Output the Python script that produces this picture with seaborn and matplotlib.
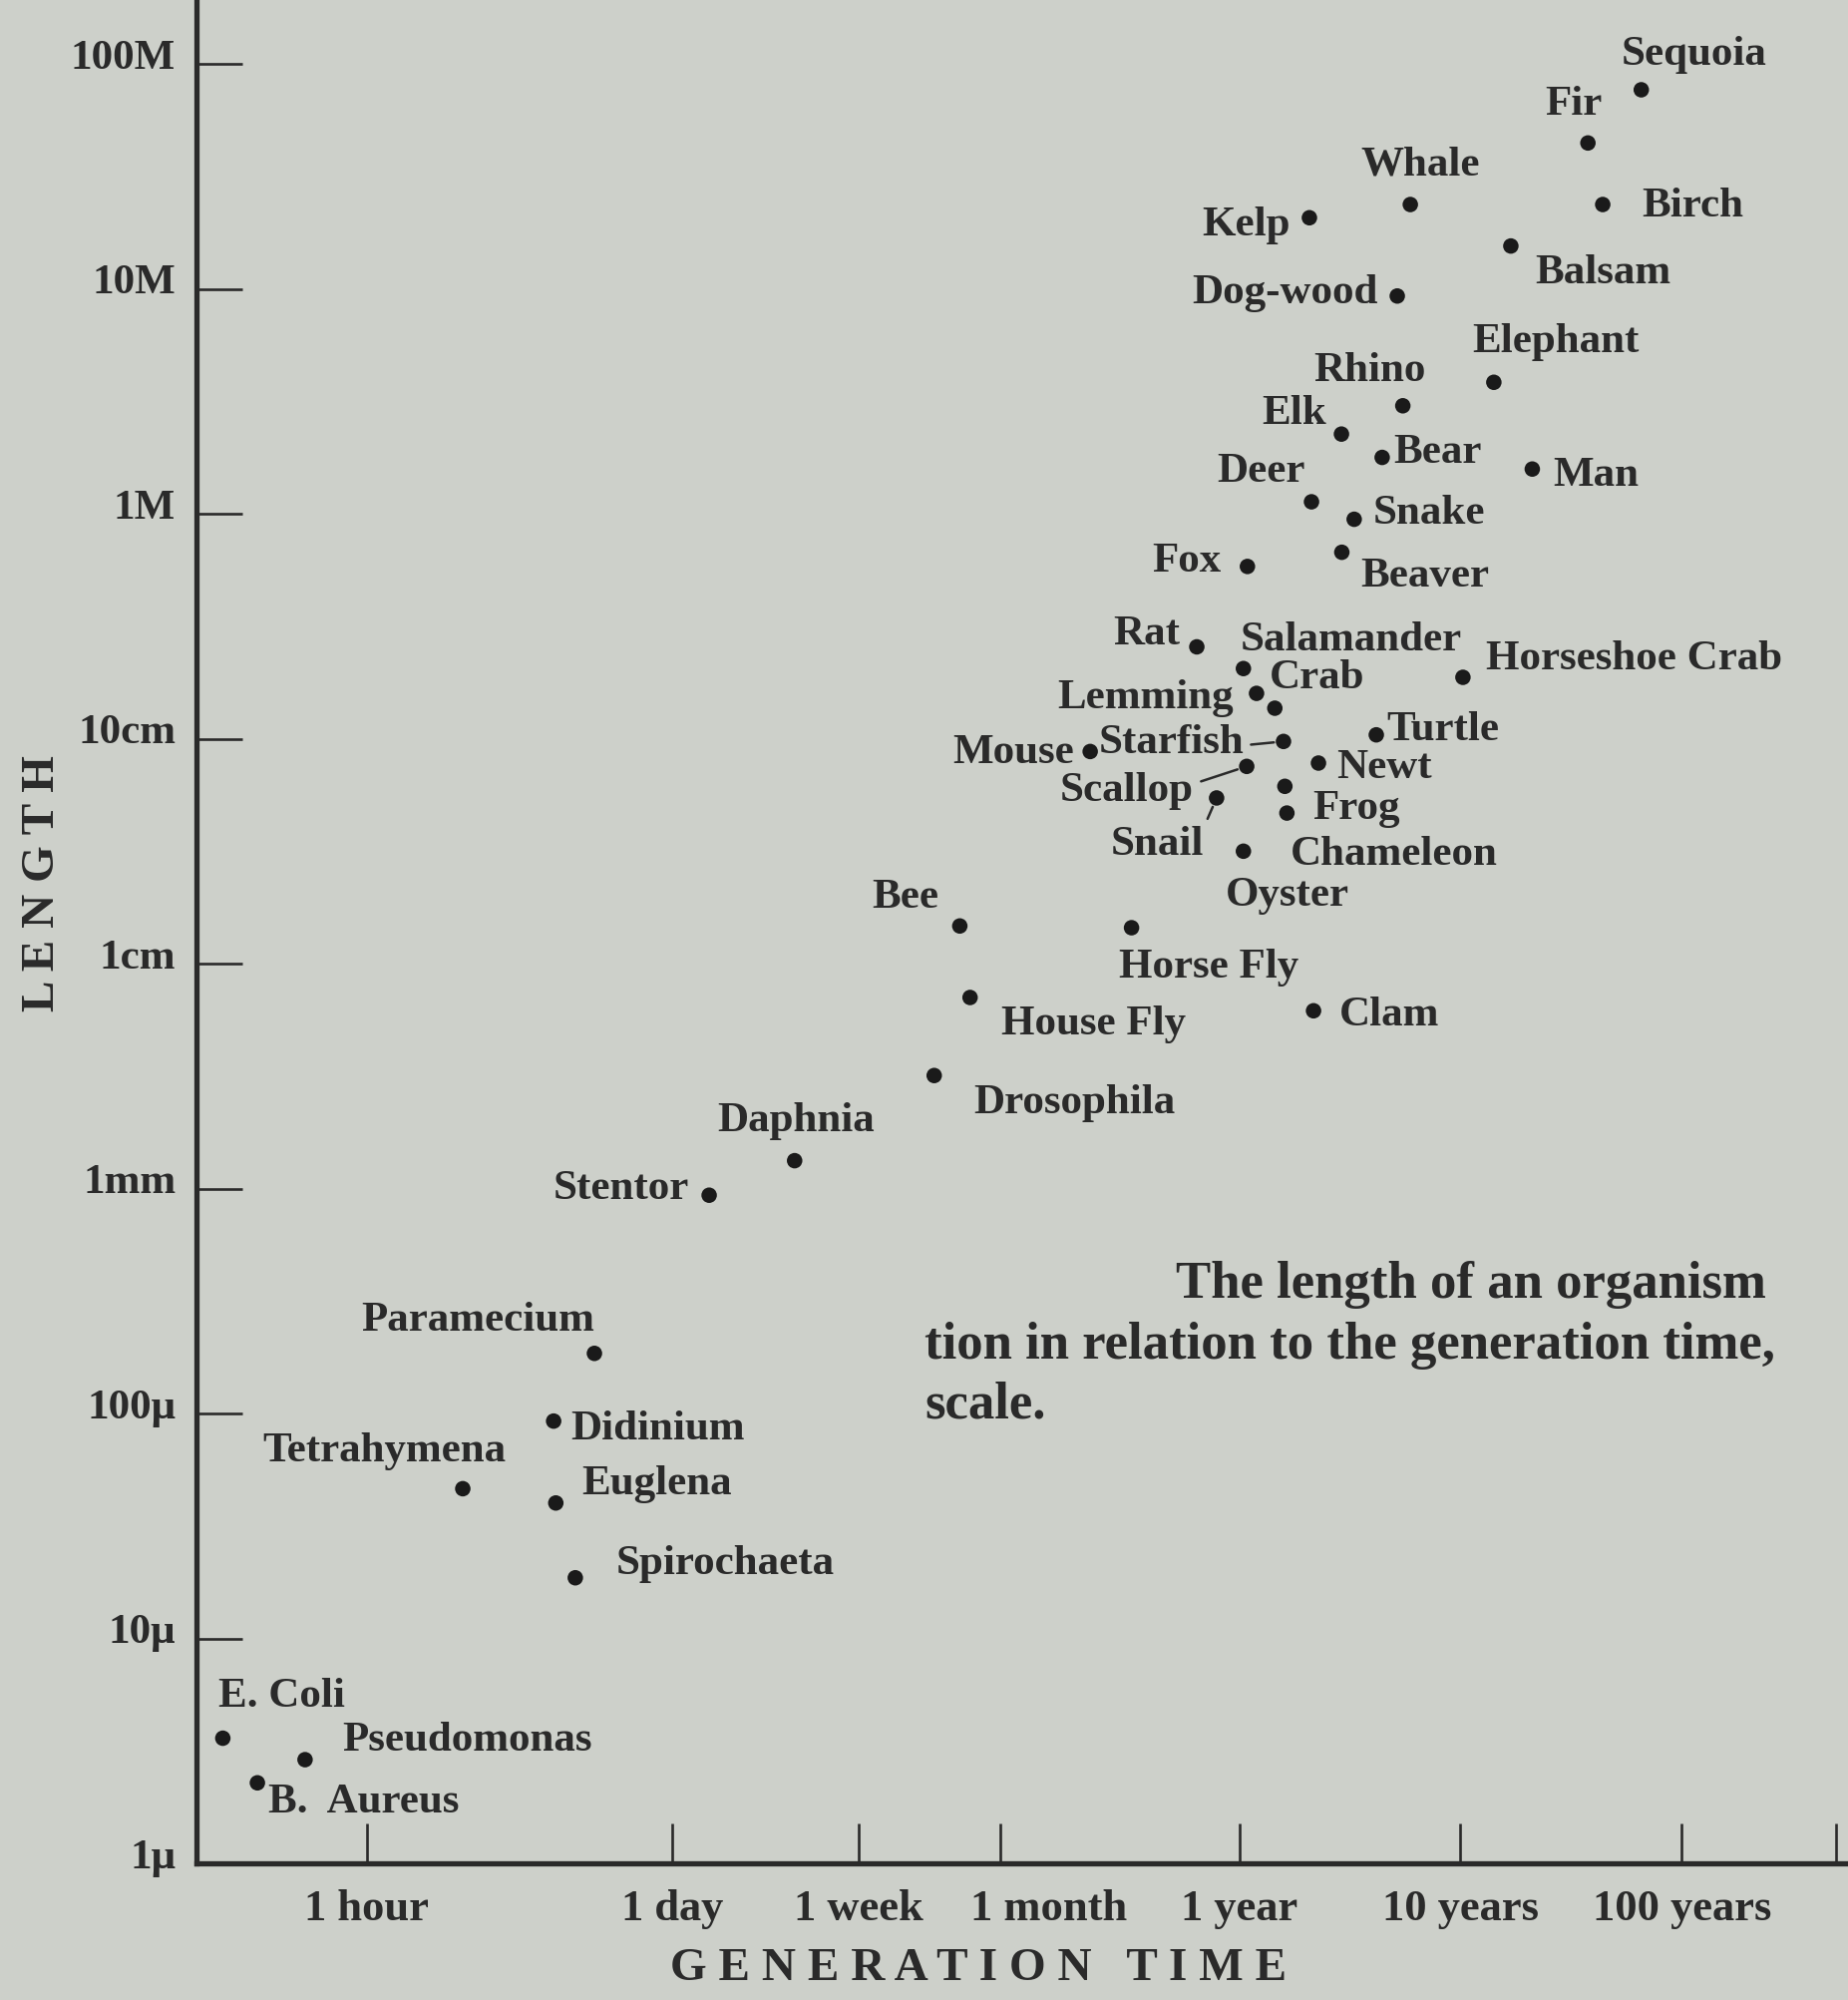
import matplotlib
matplotlib.use("Agg")
import matplotlib.pyplot as plt
import matplotlib.transforms as mtransforms
from matplotlib.ticker import NullLocator
import pandas as pd
import seaborn as sns

# ---------------------------------------------------------------------------
# Length of organisms at reproduction against generation time
# ---------------------------------------------------------------------------
organisms = [
    "Sequoia", "Fir", "Whale", "Birch", "Kelp", "Balsam", "Dog-wood",
    "Elephant", "Rhino", "Elk", "Bear", "Man", "Deer", "Snake", "Fox",
    "Beaver", "Rat", "Salamander", "Crab", "Lemming", "Horseshoe Crab",
    "Starfish", "Mouse", "Turtle", "Newt", "Scallop", "Frog", "Chameleon",
    "Snail", "Oyster", "Bee", "Horse Fly", "House Fly", "Clam", "Drosophila",
    "Daphnia", "Stentor", "Paramecium", "Didinium", "Tetrahymena", "Euglena",
    "Spirochaeta", "E. Coli", "Pseudomonas", "B.  Aureus",
]

# generation time in hours
generation_hours = [
    5.75e5, 3.30e5, 5.20e4, 3.85e5, 1.82e4, 1.48e5, 4.54e4,
    1.24e5, 4.81e4, 2.54e4, 3.88e4, 1.85e5, 1.86e4, 2.90e4, 9.55e3,
    2.55e4, 5.64e3, 9.16e3, 1.27e4, 1.05e4, 8.99e4,
    1.39e4, 1.86e3, 3.65e4, 2.00e4, 9.48e3, 1.41e4, 1.44e4,
    6.93e3, 9.16e3, 479, 2.86e3, 533, 1.90e4, 367,
    85.9, 35.3, 10.7, 7.0, 2.72, 7.16,
    8.77, 0.224, 0.527, 0.321,
]

# length in metres
length_m = [
    76.7, 44.5, 23.7, 23.7, 20.7, 15.5, 9.29,
    3.84, 3.02, 2.26, 1.78, 1.58, 1.13, 0.945, 0.583,
    0.674, 0.256, 0.205, 0.1366, 0.159, 0.1874,
    0.0972, 0.0877, 0.104, 0.0779, 0.0753, 0.0614, 0.0467,
    0.0545, 0.0316, 0.0147, 0.01444, 0.00707, 0.00617, 0.00318,
    0.00133, 0.000934, 1.85e-4, 9.25e-5, 4.63e-5, 4.00e-5,
    1.86e-5, 3.60e-6, 2.89e-6, 2.28e-6,
]

# axis ticks (hours / metres)
x_tick_hours = [1, 24, 168, 730.5, 8766, 87660, 876600, 4.383e6]
x_tick_labels = ["1 hour", "1 day", "1 week", "1 month", "1 year",
                 "10 years", "100 years", ""]
y_tick_m = [1e-6, 1e-5, 1e-4, 1e-3, 1e-2, 1e-1, 1, 10, 100]
y_tick_labels = ["1\u03bc", "10\u03bc", "100\u03bc", "1mm", "1cm", "10cm",
                 "1M", "10M", "100M"]

x_limits = (0.1703, 4.94e6)
y_limits = (1e-6, 192.3)

caption_lines = [
    "The length of an organism",
    "tion in relation to the generation time,",
    "scale.",
]

# label placement: offset (pixels) from the point and horizontal alignment
label_layout = {
    "Sequoia": (-20, 25, "left"), "Fir": (-43, 28, "left"),
    "Whale": (-50, 30, "left"), "Birch": (39, -12, "left"),
    "Kelp": (-19, -18, "right"), "Balsam": (24, -37, "left"),
    "Dog-wood": (-19, -7, "right"), "Elephant": (-22, 30, "left"),
    "Rhino": (-33, 25, "center"), "Elk": (-15, 10, "right"),
    "Bear": (11, -5, "left"), "Man": (21, -17, "left"),
    "Deer": (-6, 20, "right"), "Snake": (19, -4, "left"),
    "Fox": (-26, -5, "right"), "Beaver": (19, -34, "left"),
    "Rat": (-17, 2, "right"), "Salamander": (-3, 18, "left"),
    "Crab": (-5, 20, "left"), "Lemming": (-23, -15, "right"),
    "Horseshoe Crab": (23, 8, "left"), "Starfish": (-40, -12, "right"),
    "Mouse": (-16, -12, "right"), "Turtle": (10, -5, "left"),
    "Newt": (18, -15, "left"), "Scallop": (-53, -35, "right"),
    "Frog": (28, -33, "left"), "Chameleon": (3, -52, "left"),
    "Snail": (-13, -57, "right"), "Oyster": (-18, -55, "left"),
    "Bee": (-21, 18, "right"), "Horse Fly": (-13, -50, "left"),
    "House Fly": (31, -37, "left"), "Clam": (26, -15, "left"),
    "Drosophila": (40, -38, "left"), "Daphnia": (1, 30, "center"),
    "Stentor": (-20, -4, "right"), "Paramecium": (0, 23, "right"),
    "Didinium": (17, -18, "left"), "Tetrahymena": (43, 27, "right"),
    "Euglena": (26, 9, "left"), "Spirochaeta": (41, 4, "left"),
    "E. Coli": (-4, 32, "left"), "Pseudomonas": (37, 9, "left"),
    "B.  Aureus": (11, -30, "left"),
}
# labels tied to their point by a short rule: start point inside the label box
leaders = {"Starfish": (1.0, 0.45), "Scallop": (1.0, 0.7), "Snail": (1.0, 0.95)}

paper = "#cdd0ca"
ink = "#2a2a2a"
dot = "#1a1a1a"

sns.set_style("ticks")
plt.rcParams["font.family"] = ["Liberation Serif", "DejaVu Serif"]
plt.rcParams["font.weight"] = "bold"

df = pd.DataFrame({"organism": organisms, "hours": generation_hours,
                   "length": length_m})

W, H = 1853, 2005
fig = plt.figure(figsize=(W / 100, H / 100), dpi=100, facecolor=paper)
ax = fig.add_axes([197 / W, (H - 1868) / H, (W - 197) / W, 1868 / H])
ax.set_facecolor(paper)

sns.scatterplot(data=df, x="hours", y="length", ax=ax, s=125, color=dot,
                edgecolor="none", linewidth=0, legend=False, zorder=3)

ax.set_xscale("log")
ax.set_yscale("log")
ax.set_xlim(*x_limits)
ax.set_ylim(*y_limits)
ax.xaxis.set_minor_locator(NullLocator())
ax.yaxis.set_minor_locator(NullLocator())
ax.set_xticks(x_tick_hours, labels=x_tick_labels)
ax.set_yticks(y_tick_m, labels=y_tick_labels)

for side in ("top", "right"):
    ax.spines[side].set_visible(False)
for side in ("left", "bottom"):
    ax.spines[side].set_linewidth(3.8)
    ax.spines[side].set_color(ink)
    ax.spines[side].set_capstyle("projecting")

ax.tick_params(axis="x", direction="in", length=29, width=1.9, color=ink,
               pad=18.5, labelsize=32, labelcolor=ink)
ax.tick_params(axis="y", direction="in", length=33, width=1.9, color=ink,
               pad=15, labelsize=31, labelcolor=ink)
lift = mtransforms.ScaledTranslation(0, 10 / 100, fig.dpi_scale_trans)
for lab in ax.get_yticklabels():
    lab.set_transform(lab.get_transform() + lift)
# the month label sits a little right of its tick, clear of "1 week"
nudge = mtransforms.ScaledTranslation(48 / 100, 0, fig.dpi_scale_trans)
for lab in ax.get_xticklabels():
    if lab.get_text() == "1 month":
        lab.set_transform(lab.get_transform() + nudge)

ax.set_xlabel("G E N E R A T I O N   T I M E", fontsize=34, color=ink,
              fontweight="bold", va="center")
ax.xaxis.set_label_coords((981.5 - 197) / 1656, -(1974 - 1868) / 1868)
ax.set_ylabel("L E N G T H", fontsize=34, color=ink, fontweight="bold",
              va="center")
ax.yaxis.set_label_coords((43 - 197) / 1656, (1868 - 885.5) / 1868)

for name, hx, ly in zip(organisms, generation_hours, length_m):
    dx, dy, ha = label_layout[name]
    kw = {}
    if name in leaders:
        kw["arrowprops"] = dict(arrowstyle="-", color=ink, lw=1.8,
                                relpos=leaders[name], shrinkA=3, shrinkB=7)
    ax.annotate(name, (hx, ly), xytext=(dx, dy), textcoords="offset pixels",
                ha=ha, va="baseline", fontsize=31, color=ink, zorder=4, **kw)

# book caption beside the plot
for i, line in enumerate(caption_lines):
    x0 = 1179 if i == 0 else 927
    y0 = [1301, 1362, 1422][i]
    fig.text(x0 / W, 1 - y0 / H, line, ha="left", va="baseline",
             fontsize=38, color=ink)

fig.savefig("out.png", dpi=100, facecolor=paper)
